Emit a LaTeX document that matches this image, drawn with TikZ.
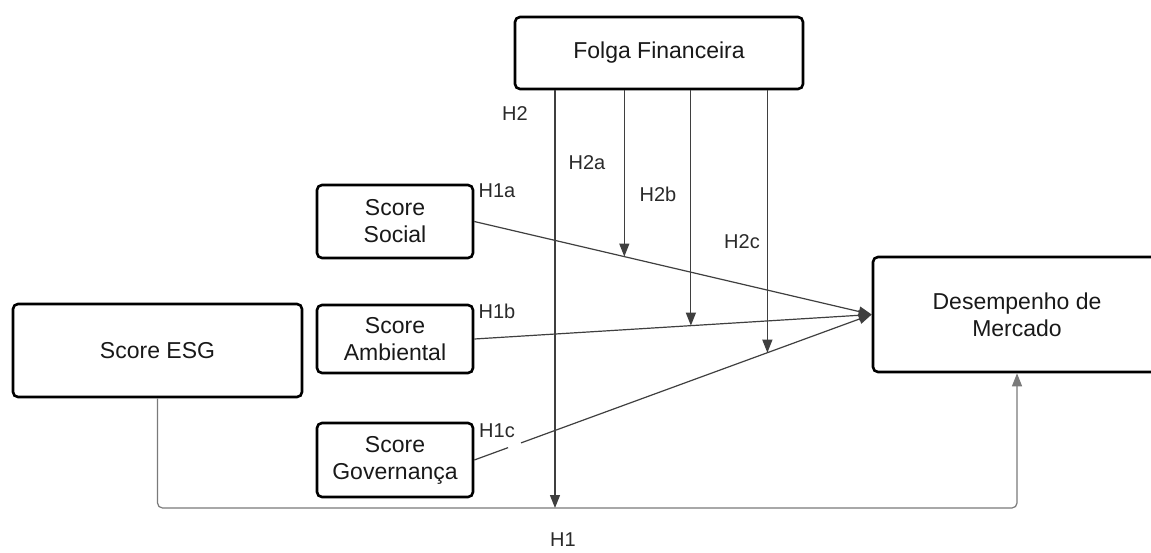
\documentclass[tikz,border=0pt]{standalone}
\usepackage{fontspec}
\setmainfont{Liberation Sans}
\usetikzlibrary{arrows.meta,calc}
\definecolor{linec}{HTML}{3F3F3F}
\definecolor{botc}{HTML}{7A7A7A}
\definecolor{labc}{HTML}{2A2A2A}
\begin{document}
\begin{tikzpicture}[x=1pt,y=-1pt,
  box/.style={draw=black, line width=2.6pt, rounded corners=5pt, fill=white, align=center,
              font=\fontsize{23}{27}\selectfont, inner sep=0pt, text=black!90},
  conn/.style={draw=linec, line width=1.2pt, -{Triangle[length=13pt,width=10pt]}},
  plainline/.style={draw=linec, line width=1.2pt},
  lab/.style={font=\fontsize{20}{24}\selectfont, text=labc, inner sep=0pt}]
\useasboundingbox (0,0) rectangle (1151,552);
\fill[white] (0,0) rectangle (1151,552);

% boxes
\node[box, minimum width=288pt, minimum height=72pt] (folga) at (659,53) {Folga Financeira};
\node[box, minimum width=156pt, minimum height=73pt] (social) at (395,221.5) {Score\\Social};
\node[box, minimum width=156pt, minimum height=68pt] (amb) at (395,339) {Score\\Ambiental};
\node[box, minimum width=156pt, minimum height=74pt] (gov) at (395,460) {Score\\Governança};
\node[box, minimum width=289pt, minimum height=93pt] (esg) at (157.5,350.5) {Score ESG};
\node[box, minimum width=288pt, minimum height=115pt] (desemp) at (1017,314.5) {Desempenho de\\Mercado};

% score -> desempenho
\draw[conn] (social.east) -- (desemp.west);
\draw[conn] (amb.east) -- (desemp.west);
\draw[plainline] (gov.east) -- ($(gov.east)!0.085!(desemp.west)$);
\draw[conn] ($(gov.east)!0.1175!(desemp.west)$) -- (desemp.west);

% moderation arrows
\coordinate (p2a) at ($(social.east)!0.3775!(desemp.west)$);
\coordinate (p2b) at ($(amb.east)!0.545!(desemp.west)$);
\coordinate (p2c) at ($(gov.east)!0.7375!(desemp.west)$);
\coordinate (p2) at (555,508);
\draw[conn] (folga.south -| p2a) -- (p2a);
\draw[conn] (folga.south -| p2b) -- (p2b);
\draw[conn] (folga.south -| p2c) -- (p2c);
\draw[conn] (folga.south -| p2) -- (p2);

% ESG -> desempenho
\draw[conn, draw=botc, rounded corners=5pt] (esg.south) |- (p2) -| (desemp.south);

% labels
\node[lab] (h2) at (515,114) {H2};
\node[lab] (h2a) at (587,163) {H2a};
\node[lab] (h2b) at (658,194) {H2b};
\node[lab] (h2c) at (742,242) {H2c};
\node[lab] (h1a) at (497,191) {H1a};
\node[lab] (h1b) at (497,311) {H1b};
\node[lab] (h1c) at (497,431) {H1c};
\node[lab] (h1) at (563,540) {H1};
\end{tikzpicture}
\end{document}
